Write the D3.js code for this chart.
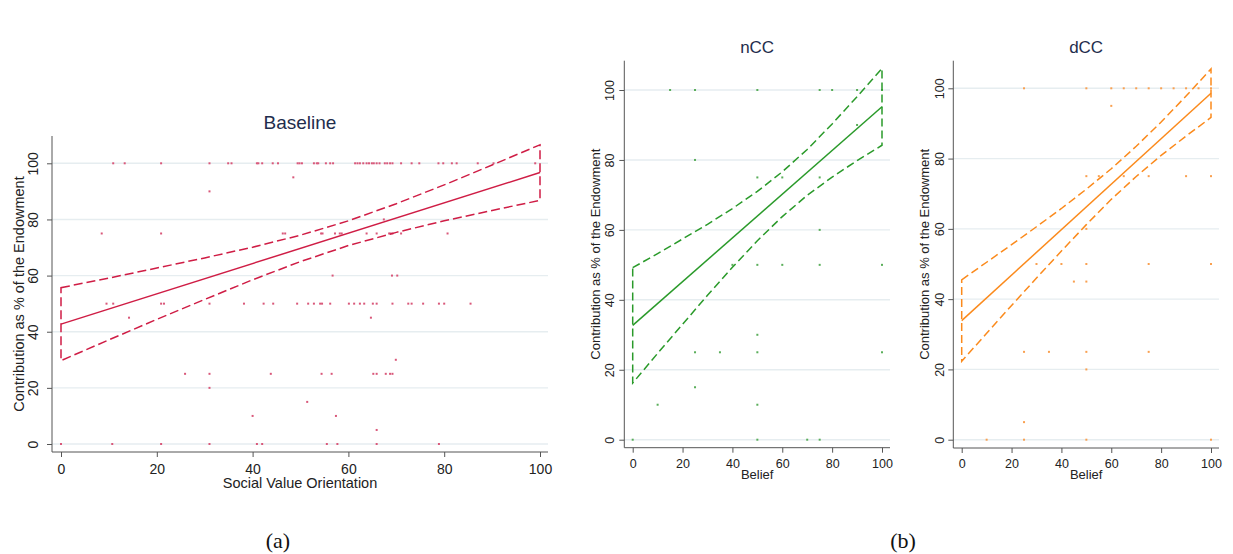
<!DOCTYPE html>
<html><head><meta charset="utf-8">
<script src="https://cdn.jsdelivr.net/npm/d3@7"></script>
<style>
body{margin:0;background:#fff}
svg{display:block}
text{font-family:"Liberation Sans",Arial,sans-serif}
</style>
</head><body>
<svg id="chart" width="1233" height="554"></svg>
<script>
// ---------------- DATA ----------------
const tickValues = [0, 20, 40, 60, 80, 100];
const tickLabels = ["0", "20", "40", "60", "80", "100"];
const ciX = [0, 10, 20, 30, 40, 50, 60, 70, 80, 90, 100];
const fitX = [0, 100];

// Baseline: contribution vs Social Value Orientation
const baselineFit = [42.7, 96.7];
const baselineUpper = [55.7, 59.1, 62.7, 66.3, 70.1, 74.4, 79.5, 85.6, 92.3, 99.4, 106.6];
const baselineLower = [29.7, 37.1, 44.4, 51.5, 58.5, 65.0, 70.7, 75.4, 79.5, 83.2, 86.8];
const baselinePoints = [
  [10.9,100],[13.3,100],[20.9,100],[31.0,100],[34.9,100],[35.6,100],[40.9,100],[41.2,100],[42.0,100],
  [44.2,100],[45.3,100],[49.4,100],[49.8,100],[50.3,100],[52.8,100],[53.4,100],[53.7,100],[55.3,100],
  [56.2,100],[56.8,100],[61.4,100],[61.9,100],[62.4,100],[63.1,100],[63.8,100],[64.3,100],[64.9,100],
  [65.3,100],[65.9,100],[66.5,100],[67.6,100],[68.1,100],[68.7,100],[69.2,100],[71.0,100],[73.2,100],
  [74.8,100],[78.8,100],[79.8,100],[81.6,100],[82.6,100],[87.0,100],[90.3,100],[99.0,100],
  [48.5,95],[31.0,90],[67.4,80],
  [8.5,75],[20.9,75],[46.3,75],[46.8,75],[54.3,75],[54.6,75],[57.2,75],[58.2,75],[58.6,75],[63.8,75],
  [65.9,75],[68.5,75],[68.8,75],[69.2,75],[71.0,75],[80.7,75],
  [56.7,60],[69.1,60],[70.2,60],
  [9.5,50],[10.9,50],[20.9,50],[21.5,50],[31.0,50],[38.2,50],[42.3,50],[44.3,50],[49.3,50],[51.6,50],
  [52.8,50],[54.1,50],[54.5,50],[56.2,50],[60.1,50],[61.2,50],[62.4,50],[63.3,50],[65.1,50],[65.9,50],
  [69.2,50],[72.5,50],[73.2,50],[75.6,50],[78.9,50],[80.0,50],[85.5,50],
  [14.2,45],[64.7,45],[69.9,30],
  [25.9,25],[31.0,25],[43.8,25],[54.4,25],[56.5,25],[65.2,25],[65.9,25],[67.8,25],[68.7,25],[69.2,25],
  [31.0,20],[51.4,15],[40.0,10],[57.4,10],[65.9,5],
  [0,0],[10.7,0],[20.9,0],[31.0,0],[40.9,0],[42.0,0],[55.5,0],[57.7,0],[65.9,0],[78.9,0]
];

// nCC: contribution vs Belief
const nccFit = [32.7, 95.2];
const nccUpper = [49.2, 53.2, 57.4, 61.6, 66.1, 71.0, 76.6, 83.0, 90.3, 98.1, 106.2];
const nccLower = [16.2, 24.7, 33.0, 41.3, 49.3, 56.9, 63.8, 69.9, 75.1, 79.8, 84.2];
const nccPoints = [
  [15,100],[25,100],[50,100],[75,100],[80,100],[90,100],[100,100],
  [90,90],[25,80],[50,75],[60,75],[75,75],[75,60],
  [40,50],[50,50],[60,50],[75,50],[100,50],
  [50,30],[25,25],[35,25],[50,25],[100,25],[25,15],[10,10],[50,10],
  [0,0],[50,0],[70,0],[75,0]
];

// dCC: contribution vs Belief
const dccFit = [33.9, 98.6];
const dccUpper = [45.5, 50.5, 55.5, 60.6, 65.8, 71.3, 77.1, 83.5, 90.4, 97.8, 105.5];
const dccLower = [22.3, 30.3, 38.2, 46.0, 53.7, 61.2, 68.4, 74.9, 80.9, 86.4, 91.7];
const dccPoints = [
  [25,100],[50,100],[60,100],[65,100],[70,100],[75,100],[80,100],[85,100],[90,100],[95,100],[100,100],
  [60,95],
  [50,75],[55,75],[65,75],[75,75],[90,75],[100,75],
  [50,60],
  [30,50],[40,50],[50,50],[75,50],[100,50],
  [45,45],[50,45],
  [25,25],[35,25],[50,25],[75,25],
  [50,20],[25,5],
  [10,0],[25,0],[50,0],[100,0]
];

const panelTitles = ["Baseline", "nCC", "dCC"];
const xTitles = ["Social Value Orientation", "Belief", "Belief"];
const yTitle = "Contribution as % of the Endowment";
const captions = ["(a)", "(b)"];

// ---------------- LAYOUT ----------------
const panels = [
  {title: panelTitles[0], xTitle: xTitles[0], fit: baselineFit, upper: baselineUpper, lower: baselineLower, pts: baselinePoints,
   color: "#cf1d45", marker: "#d9587a", dash: "9,4",
   px0: 61, px100: 540, py0: 444, py100: 163.3, axL: 52, axR: 548, axT: 136, axB: 452,
   tickFont: 14, labFont: 14.5, titleFont: 19, titleY: 129, yTickDx: 19, yLabX: 19, xTickDy: 22, xLabY: 488},
  {title: panelTitles[1], xTitle: xTitles[1], fit: nccFit, upper: nccUpper, lower: nccLower, pts: nccPoints,
   color: "#2a9a2a", marker: "#5aae5a", dash: "8,4",
   px0: 632.7, px100: 882, py0: 439.7, py100: 90, axL: 624.3, axR: 890, axT: 60.7, axB: 447.7,
   tickFont: 12.5, labFont: 13, titleFont: 17, titleY: 53.3, yTickDx: 15, yLabX: 595, xTickDy: 20, xLabY: 479},
  {title: panelTitles[2], xTitle: xTitles[2], fit: dccFit, upper: dccUpper, lower: dccLower, pts: dccPoints,
   color: "#fb8a1c", marker: "#f9a050", dash: "8,4",
   px0: 961.7, px100: 1211, py0: 439.7, py100: 88.3, axL: 953.3, axR: 1219, axT: 60.7, axB: 448,
   tickFont: 12.5, labFont: 13, titleFont: 17, titleY: 53.3, yTickDx: 14, yLabX: 924.3, xTickDy: 20, xLabY: 479}
];

const svg = d3.select("#chart");
svg.append("rect").attr("width", 1233).attr("height", 554).attr("fill", "#fff");

panels.forEach(p => {
  const x = d3.scaleLinear().domain([0, 100]).range([p.px0, p.px100]);
  const y = d3.scaleLinear().domain([0, 100]).range([p.py0, p.py100]);
  const g = svg.append("g");

  // gridlines
  g.selectAll(".grid").data(tickValues).enter().append("line")
    .attr("x1", p.axL).attr("x2", p.axR)
    .attr("y1", d => y(d)).attr("y2", d => y(d))
    .attr("stroke", "#e6edf0").attr("stroke-width", 1.4);

  // y axis
  const ya = g.append("g").attr("transform", `translate(${p.axL},0)`)
    .call(d3.axisLeft(y).tickValues(tickValues).tickFormat((d, i) => tickLabels[i]).tickSize(5));
  ya.select(".domain").remove();
  ya.selectAll("line").attr("stroke", "#555");
  ya.selectAll("text")
    .attr("transform", "rotate(-90)")
    .attr("x", 0).attr("y", -p.yTickDx).attr("dy", "0.35em")
    .attr("text-anchor", "middle")
    .attr("fill", "#222")
    .style("font-size", p.tickFont + "px")
    .style("font-family", '"Liberation Sans",Arial,sans-serif');
  g.append("line").attr("x1", p.axL).attr("x2", p.axL).attr("y1", p.axT).attr("y2", p.axB)
    .attr("stroke", "#555").attr("stroke-width", 1);

  // x axis
  const xa = g.append("g").attr("transform", `translate(0,${p.axB})`)
    .call(d3.axisBottom(x).tickValues(tickValues).tickFormat((d, i) => tickLabels[i]).tickSize(5));
  xa.select(".domain").remove();
  xa.selectAll("line").attr("stroke", "#555");
  xa.selectAll("text")
    .attr("y", p.xTickDy).attr("dy", 0)
    .attr("fill", "#222")
    .style("font-size", p.tickFont + "px")
    .style("font-family", '"Liberation Sans",Arial,sans-serif');
  g.append("line").attr("x1", p.axL).attr("x2", p.axR).attr("y1", p.axB).attr("y2", p.axB)
    .attr("stroke", "#555").attr("stroke-width", 1);

  // scatter points
  g.selectAll(".pt").data(p.pts).enter().append("rect")
    .attr("x", d => x(d[0]) - 1).attr("y", d => y(d[1]) - 1)
    .attr("width", 2).attr("height", 2)
    .attr("fill", p.marker);

  // CI band outline (closed)
  const band = ciX.map((cx, i) => [cx, p.upper[i]])
    .concat(ciX.slice().reverse().map((cx, i) => [cx, p.lower[ciX.length - 1 - i]]));
  const bandLine = d3.line().x(d => x(d[0])).y(d => y(d[1]));
  g.append("path").attr("d", bandLine(band) + "Z")
    .attr("fill", "none").attr("stroke", p.color).attr("stroke-width", 1.5)
    .attr("stroke-dasharray", p.dash);

  // fit line
  g.append("path").attr("d", d3.line().x(d => x(d[0])).y(d => y(d[1]))(fitX.map((fx, i) => [fx, p.fit[i]])))
    .attr("fill", "none").attr("stroke", p.color).attr("stroke-width", 1.5);

  // titles
  const cx = (p.axL + p.axR) / 2;
  g.append("text").attr("x", cx).attr("y", p.titleY).attr("text-anchor", "middle")
    .attr("fill", "#1f2d4d").style("font-size", p.titleFont + "px").text(p.title);
  g.append("text").attr("x", cx).attr("y", p.xLabY).attr("text-anchor", "middle")
    .attr("fill", "#222").style("font-size", p.labFont + "px").text(p.xTitle);
  const cy = (p.axT + p.axB) / 2;
  g.append("text").attr("transform", `translate(${p.yLabX},${cy}) rotate(-90)`)
    .attr("text-anchor", "middle").attr("dy", "0.35em")
    .attr("fill", "#222").style("font-size", p.labFont + "px").text(yTitle);
});

// captions
const capX = [278, 903];
svg.selectAll(".cap").data(captions).enter().append("text")
  .attr("x", (d, i) => capX[i]).attr("y", 548).attr("text-anchor", "middle")
  .style("font-family", '"Liberation Serif","DejaVu Serif",serif').style("font-size", "22px")
  .attr("fill", "#111").text(d => d);
</script>
</body></html>
